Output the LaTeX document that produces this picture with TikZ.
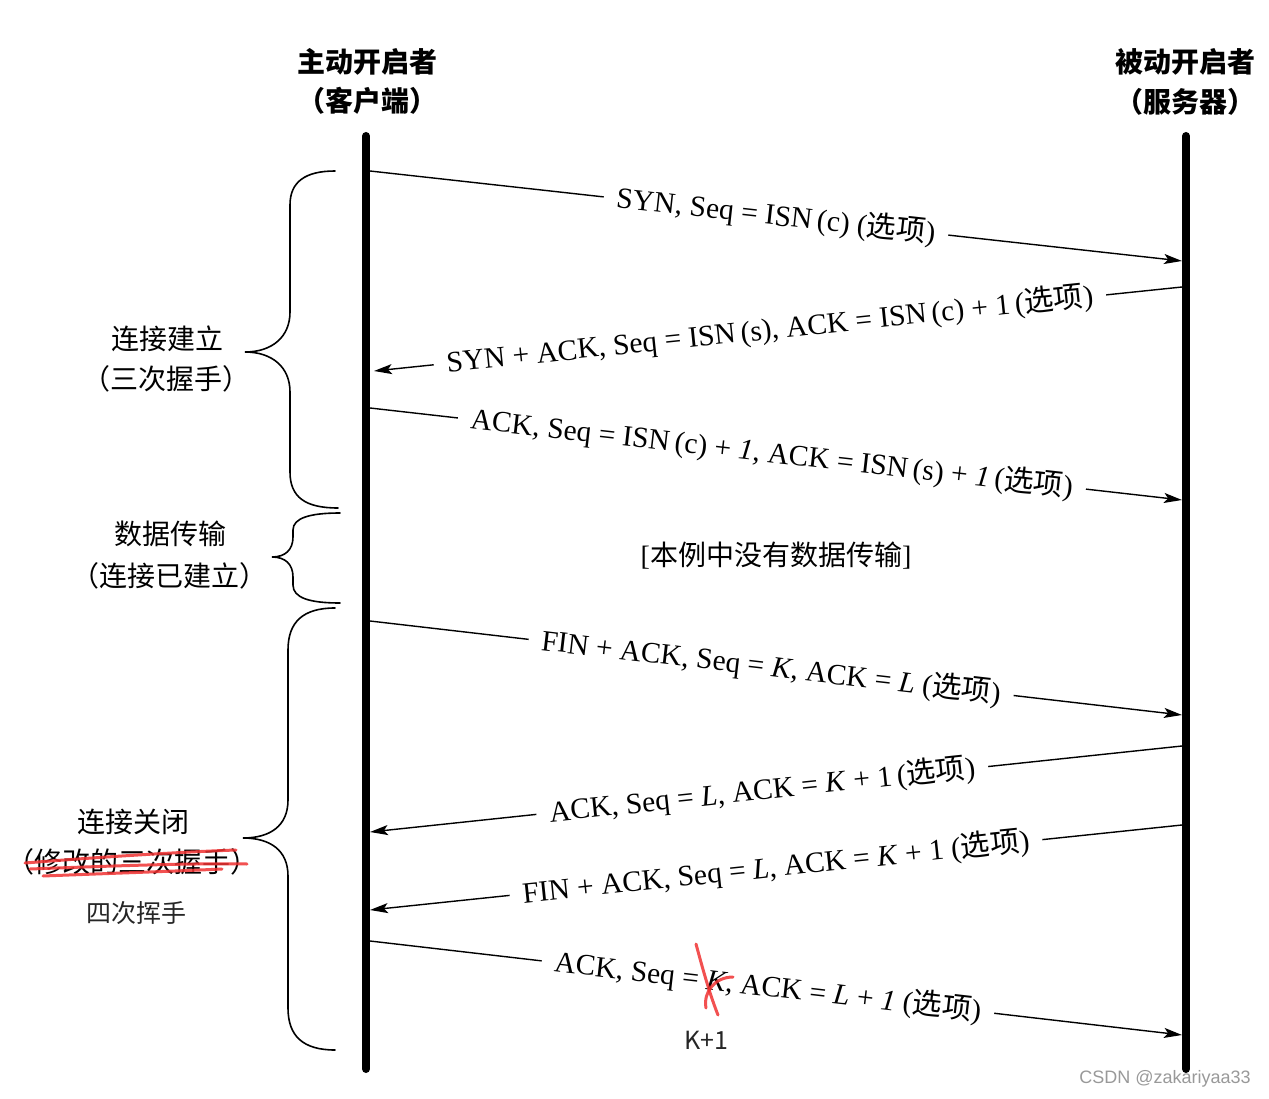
\documentclass[tikz,border=0pt]{standalone}
\usepackage{fontspec}
\setmainfont{Liberation Serif}
\newfontfamily\cjk{Noto Sans CJK SC}
\newfontfamily\wmfont{Liberation Sans}
\usetikzlibrary{arrows.meta}

\newcommand{\optnote}{({\cjk 选项})}

\begin{document}
\begin{tikzpicture}[x=1pt,y=-1pt,
    life/.style={line width=8pt, line cap=round},
    msg/.style={line width=1.4pt, -{Stealth[length=18pt,width=10pt,inset=4pt]}},
    lbl/.style={sloped, fill=white, inner xsep=13pt, inner ysep=1pt,
        font=\fontsize{29.5}{32}\selectfont},
    head/.style={font=\cjk\bfseries\fontsize{28}{32}\selectfont},
    phase/.style={font=\cjk\fontsize{28}{32}\selectfont},
    bracepath/.style={line width=1.6pt, line cap=round},
    redpen/.style={line width=3pt, line cap=round, draw={rgb,255:red,240;green,50;blue,50}, opacity=.85}]
    \useasboundingbox (0,0) rectangle (1269,1099);

    % Lifelines
    \coordinate (cTop) at (366,136);
    \coordinate (cBot) at (366,1069);
    \coordinate (sTop) at (1186,136);
    \coordinate (sBot) at (1186,1069);
    \draw[life] (cTop) -- (cBot);
    \draw[life] (sTop) -- (sBot);

    % Headers
    \node[head] (client) at (367,62) {主动开启者};
    \node[head] (clientsub) at (367,101) {（客户端）};
    \node[head] (server) at (1185,62) {被动开启者};
    \node[head] (serversub) at (1185,102) {（服务器）};

    % Message end points
    \coordinate (c1) at (370,171);   \coordinate (s1) at (1182,261);
    \coordinate (s2) at (1182,287);  \coordinate (c2) at (374,371);
    \coordinate (c3) at (370,408);   \coordinate (s3) at (1182,500);
    \coordinate (c5) at (370,621);   \coordinate (s5) at (1182,715);
    \coordinate (s6) at (1182,746);  \coordinate (c6) at (370,832);
    \coordinate (s7) at (1182,825);  \coordinate (c7) at (370,910);
    \coordinate (c8) at (370,941);   \coordinate (s8) at (1182,1035);

    % Three-way handshake
    \draw[msg] (c1) -- node[lbl, pos=.5] (m1) {SYN, Seq = ISN\,(c)\ \optnote} (s1);
    \draw[msg] (s2) -- node[lbl, pos=.51] (m2) {SYN + ACK, Seq = ISN\,(s), ACK = ISN\,(c) + 1\,\optnote} (c2);
    \draw[msg] (c3) -- node[lbl, pos=.495] (m3) {ACK, Seq = ISN\,(c) + \textit{1}, ACK = ISN\,(s) + \textit{1}\,\optnote} (s3);

    % No data
    \node[phase] (nodata) at (776,556) {{\rmfamily[}本例中没有数据传输{\rmfamily]}};

    % Closing
    \draw[msg] (c5) -- node[lbl, pos=.494] (m5) {FIN + ACK, Seq = \textit{K}, ACK = \textit{L}\ \optnote} (s5);
    \draw[msg] (s6) -- node[lbl, pos=.517] (m6) {ACK, Seq = \textit{L}, ACK = \textit{K} + 1\,\optnote} (c6);
    \draw[msg] (s7) -- node[lbl, pos=.5] (m7) {FIN + ACK, Seq = \textit{L}, ACK = \textit{K} + 1\ \optnote} (c7);
    \draw[msg] (c8) -- node[lbl, pos=.49] (m8) {ACK, Seq = \textit{K}, ACK = \textit{L} + \textit{1}\ \optnote} (s8);

    % Braces
    \draw[bracepath] (335,171) .. controls (305,171) and (290,182) .. (290,205) -- (290,312)
        .. controls (290,337) and (272,352) .. (245,352)
        .. controls (272,352) and (290,367) .. (290,392) -- (290,472)
        .. controls (290,497) and (305,508) .. (338,508);
    \draw[bracepath] (340,513) .. controls (310,513) and (293,518) .. (293,530) -- (293,537)
        .. controls (293,550) and (285,557) .. (272,557)
        .. controls (285,557) and (293,564) .. (293,577) -- (293,585)
        .. controls (293,598) and (310,603) .. (340,603);
    \draw[bracepath] (335,608) .. controls (303,608) and (288,622) .. (288,650) -- (288,800)
        .. controls (288,826) and (270,838) .. (243,838)
        .. controls (270,838) and (288,850) .. (288,876) -- (288,1008)
        .. controls (288,1036) and (303,1050) .. (335,1050);

    % Phase labels
    \node[phase] (open) at (167,339) {连接建立};
    \node[phase] (opensub) at (166,379) {（三次握手）};
    \node[phase] (data) at (170,534) {数据传输};
    \node[phase] (datasub) at (169,576) {（连接已建立）};
    \node[phase] (close) at (133,822) {连接关闭};
    \node[phase] (closesub) at (132,862) {（修改的三次握手）};
    \node[phase, font=\cjk\fontsize{25}{30}\selectfont, text=black!85] (closefix) at (136,913) {四次挥手};

    % Red corrections
    \draw[redpen] (25,863) .. controls (100,857) and (180,852) .. (236,850);
    \draw[redpen] (30,869) .. controls (110,866) and (190,863) .. (247,864);
    \draw[redpen] (43,876) .. controls (120,873) and (180,871) .. (222,869);
    \draw[redpen] (696,944) .. controls (703,970) and (710,995) .. (718,1015);
    \draw[redpen] (733,977) .. controls (715,977) and (703,992) .. (706,1008);
    \node[font=\cjk\fontsize{25}{30}\selectfont, text=black!85] (kfix) at (706,1040) {K+1};

    % Watermark
    \node[font=\wmfont\fontsize{18}{20}\selectfont, text=black!40] (wm) at (1165,1079) {CSDN @zakariyaa33};
\end{tikzpicture}
\end{document}
